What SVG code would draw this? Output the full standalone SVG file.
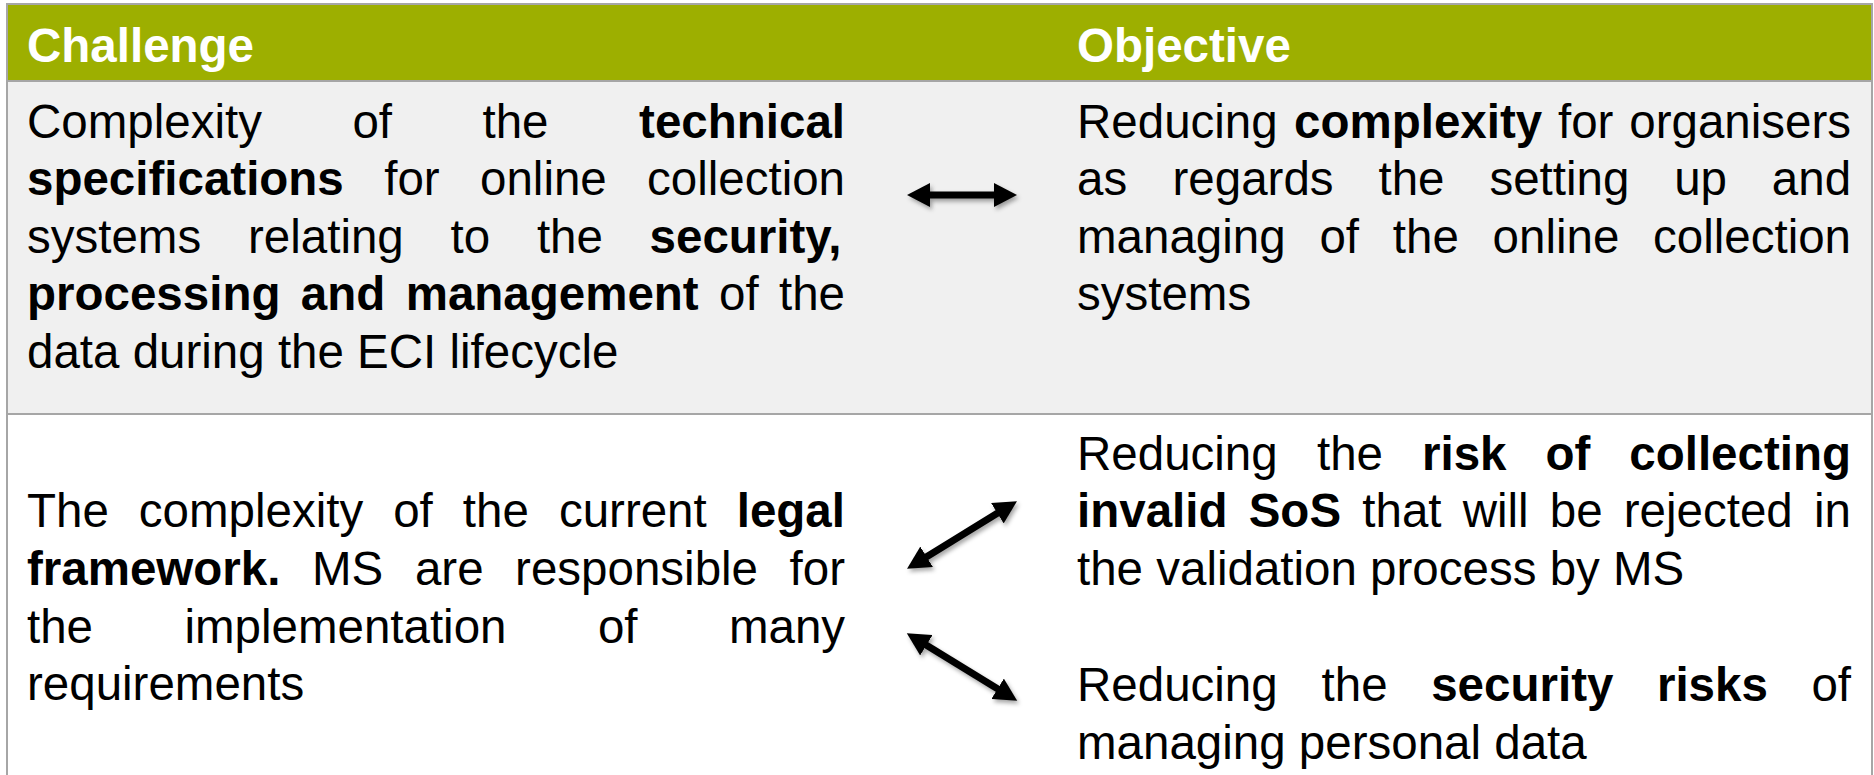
<svg xmlns="http://www.w3.org/2000/svg" width="1874" height="775" viewBox="0 0 1874 775">
<style>
text{font-family:"Liberation Sans",Arial,sans-serif;font-size:47.5px;fill:#000}
.b{font-weight:bold}
.h{font-weight:bold;fill:#fff}
.grid{stroke:#A6A6A6;stroke-width:2;fill:none}
.arr{stroke:#000;stroke-width:7;fill:none;marker-start:url(#ah);marker-end:url(#ah)}
</style>
<defs>
<marker id="ah" markerUnits="userSpaceOnUse" markerWidth="24" markerHeight="24" refX="8" refY="12" orient="auto-start-reverse" viewBox="0 0 24 24">
<path d="M0,0 L23,12 L0,24 z" fill="#000"/>
</marker>
<filter id="sh" filterUnits="userSpaceOnUse" x="0" y="0" width="1874" height="775">
<feDropShadow dx="2" dy="3" stdDeviation="2" flood-color="#000" flood-opacity="0.35"/>
</filter>
</defs>
<rect x="0" y="0" width="1874" height="775" fill="#fff"/>
<g id="table">
<rect x="7" y="4" width="1865" height="77" fill="#9DAF00"/>
<rect x="7" y="82" width="1865" height="331" fill="#F0F0F0"/>
<path class="grid" d="M7,775 V4 H1872 V775"/>
<line class="grid" x1="7" y1="81" x2="1872" y2="81"/>
<line class="grid" x1="7" y1="414" x2="1872" y2="414"/>
</g>
<g id="header">
<text class="h" x="27" y="62">Challenge</text>
<text class="h" x="1077" y="62">Objective</text>
</g>
<g id="challenge1">
<text y="138"><tspan x="27">Complexity</tspan><tspan x="352.4">of</tspan><tspan x="482.5">the</tspan><tspan class="b" x="639.1">technical</tspan></text>
<text y="195"><tspan class="b" x="27">specifications</tspan><tspan x="384.2">for</tspan><tspan x="480">online</tspan><tspan x="647">collection</tspan></text>
<text y="253"><tspan x="27">systems</tspan><tspan x="248">relating</tspan><tspan x="450.5">to</tspan><tspan x="536.9">the</tspan><tspan class="b" x="649.6">security,</tspan></text>
<text y="310"><tspan class="b" x="27">processing</tspan><tspan class="b" x="300.8">and</tspan><tspan class="b" x="405.7">management</tspan><tspan x="719.1">of</tspan><tspan x="779">the</tspan></text>
<text x="27" y="368">data during the ECI lifecycle</text>
</g>
<g id="objective1">
<text y="138"><tspan x="1077">Reducing</tspan><tspan class="b" x="1294">complexity</tspan><tspan x="1558">for</tspan><tspan x="1629.3">organisers</tspan></text>
<text y="195"><tspan x="1077">as</tspan><tspan x="1172.5">regards</tspan><tspan x="1378.5">the</tspan><tspan x="1489.4">setting</tspan><tspan x="1674.2">up</tspan><tspan x="1771.8">and</tspan></text>
<text y="253"><tspan x="1077">managing</tspan><tspan x="1319.4">of</tspan><tspan x="1392.8">the</tspan><tspan x="1492.6">online</tspan><tspan x="1653">collection</tspan></text>
<text x="1077" y="310">systems</text>
</g>
<g id="challenge2">
<text y="527"><tspan x="27">The</tspan><tspan x="138.8">complexity</tspan><tspan x="393.2">of</tspan><tspan x="462.8">the</tspan><tspan x="558.9">current</tspan><tspan class="b" x="736.7">legal</tspan></text>
<text y="585"><tspan class="b" x="27">framework.</tspan><tspan x="312">MS</tspan><tspan x="414.9">are</tspan><tspan x="515.1">responsible</tspan><tspan x="789.6">for</tspan></text>
<text y="643"><tspan x="27">the</tspan><tspan x="184.4">implementation</tspan><tspan x="597.9">of</tspan><tspan x="728.9">many</tspan></text>
<text x="27" y="700">requirements</text>
</g>
<g id="objective2a">
<text y="470"><tspan x="1077">Reducing</tspan><tspan x="1317">the</tspan><tspan class="b" x="1422">risk</tspan><tspan class="b" x="1545.6">of</tspan><tspan class="b" x="1629.3">collecting</tspan></text>
<text y="527"><tspan class="b" x="1077">invalid</tspan><tspan class="b" x="1248.7">SoS</tspan><tspan x="1362.3">that</tspan><tspan x="1462.7">will</tspan><tspan x="1549.8">be</tspan><tspan x="1623.8">rejected</tspan><tspan x="1814">in</tspan></text>
<text x="1077" y="585">the validation process by MS</text>
</g>
<g id="objective2b">
<text y="701"><tspan x="1077">Reducing</tspan><tspan x="1321.6">the</tspan><tspan class="b" x="1431.2">security</tspan><tspan class="b" x="1656.9">risks</tspan><tspan x="1811.4">of</tspan></text>
<text x="1077" y="759">managing personal data</text>
</g>
<g id="connectors" filter="url(#sh)">
<line class="arr" x1="922" y1="195" x2="1002" y2="195"/>
<line class="arr" x1="919.8" y1="561" x2="1004.2" y2="509"/>
<line class="arr" x1="919.6" y1="641" x2="1004.4" y2="693"/>
</g>
</svg>
